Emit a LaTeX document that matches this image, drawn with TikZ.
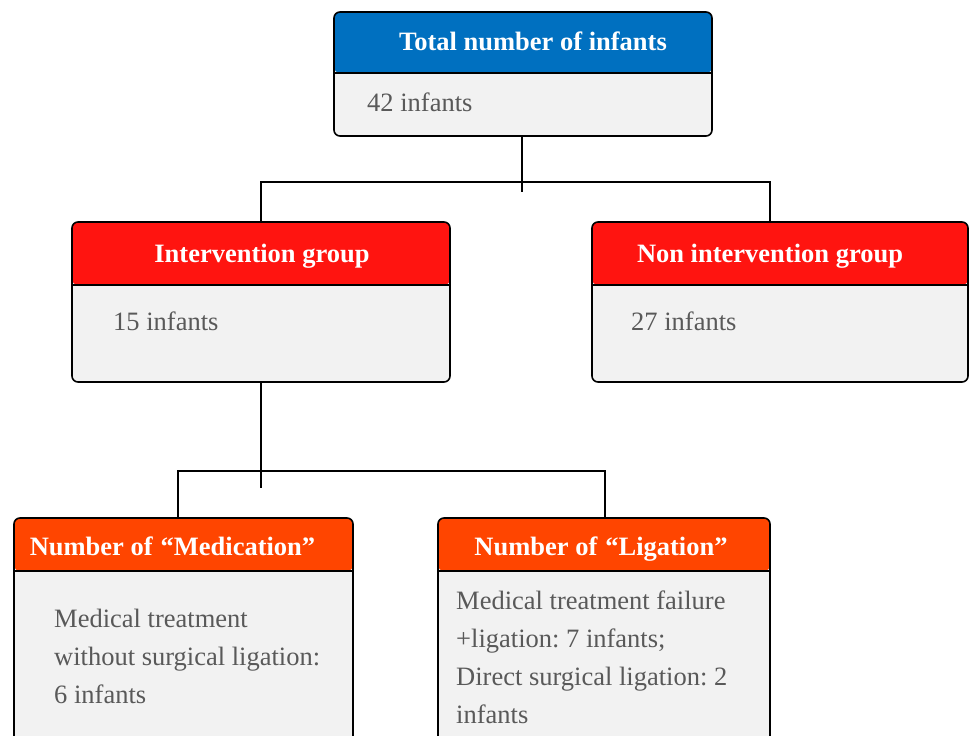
\documentclass[tikz,border=0pt]{standalone}
\usepackage{fontspec}
\setmainfont{Liberation Serif}
\usetikzlibrary{calc}
\frenchspacing
\definecolor{topblue}{HTML}{0070C0}
\definecolor{grpred}{HTML}{FF1410}
\definecolor{subred}{HTML}{FF4500}
\definecolor{bodygray}{HTML}{F2F2F2}
\definecolor{txtgray}{HTML}{595959}
\tikzset{
  box/.style={draw=black, line width=1.6pt, rounded corners=6pt, fill=bodygray, inner sep=0pt, outer sep=0pt},
  hdr/.style 2 args={path picture={\fill[#1] (path picture bounding box.north west) rectangle ([yshift=-#2]path picture bounding box.north east);}},
  sepline/.style={draw=black, line width=1.4pt},
  conn/.style={draw=black, line width=2.2pt},
  htext/.style={font=\bfseries\fontsize{26.5}{30}\selectfont, text=white, inner sep=0pt, anchor=base},
  btext/.style={font=\fontsize{26.5}{38}\selectfont, text=txtgray, inner sep=0pt, align=left, anchor=base west},
}
\begin{document}
\begin{tikzpicture}[x=1pt,y=-1pt]
\clip (0,0) rectangle (969,736);
\fill[white] (0,0) rectangle (969,736);

% boxes
\node[box, minimum width=378pt, minimum height=124pt, hdr={topblue}{61pt}] (top) at (523,74) {};
\draw[sepline] ([yshift=-61pt]top.north west) -- ([yshift=-61pt]top.north east);
\node[box, minimum width=378pt, minimum height=160pt, hdr={grpred}{63pt}] (inter) at (261,302) {};
\draw[sepline] ([yshift=-63pt]inter.north west) -- ([yshift=-63pt]inter.north east);
\node[box, minimum width=376pt, minimum height=160pt, hdr={grpred}{63pt}] (non) at (780,302) {};
\draw[sepline] ([yshift=-63pt]non.north west) -- ([yshift=-63pt]non.north east);
\node[box, minimum width=339pt, minimum height=260pt, hdr={subred}{53pt}] (med) at (183.5,648) {};
\draw[sepline] ([yshift=-53pt]med.north west) -- ([yshift=-53pt]med.north east);
\node[box, minimum width=332pt, minimum height=260pt, hdr={subred}{53pt}] (lig) at (604,648) {};
\draw[sepline] ([yshift=-53pt]lig.north west) -- ([yshift=-53pt]lig.north east);

% texts
\node[htext] (topT) at (533,50) {Total number of infants};
\node[btext] (topB) at (367,111) {42 infants};
\node[htext] (interT) at (262,262) {Intervention group};
\node[btext] (interB) at (113,330) {15 infants};
\node[htext] (nonT) at (770,262) {Non intervention group};
\node[btext] (nonB) at (631,330) {27 infants};
\node[htext] (medT) at (172.5,555) {Number of\hspace{0.3em}“Medication”};
\node[btext] (medB) at (54,703) {Medical treatment\\without surgical ligation:\\6 infants};
\node[htext] (ligT) at (601,555) {Number of\hspace{0.3em}“Ligation”};
\node[btext] (ligB) at (456,723) {Medical treatment failure\\+ligation: 7 infants;\\Direct surgical ligation: 2\\infants};

% connectors
\coordinate (j1) at (522,182);
\coordinate (j1s) at (522,192);
\coordinate (nonin) at (770,222);
\coordinate (j2) at (261,471);
\coordinate (j2s) at (261,488);
\coordinate (medin) at (178,518);
\coordinate (ligin) at (605,518);
\draw[conn] (top.south -| j1) -- (j1s);
\draw[conn] (inter.north) |- (j1) -| (nonin);
\draw[conn] (inter.south) -- (j2s);
\draw[conn] (medin) |- (j2) -| (ligin);
\end{tikzpicture}
\end{document}
